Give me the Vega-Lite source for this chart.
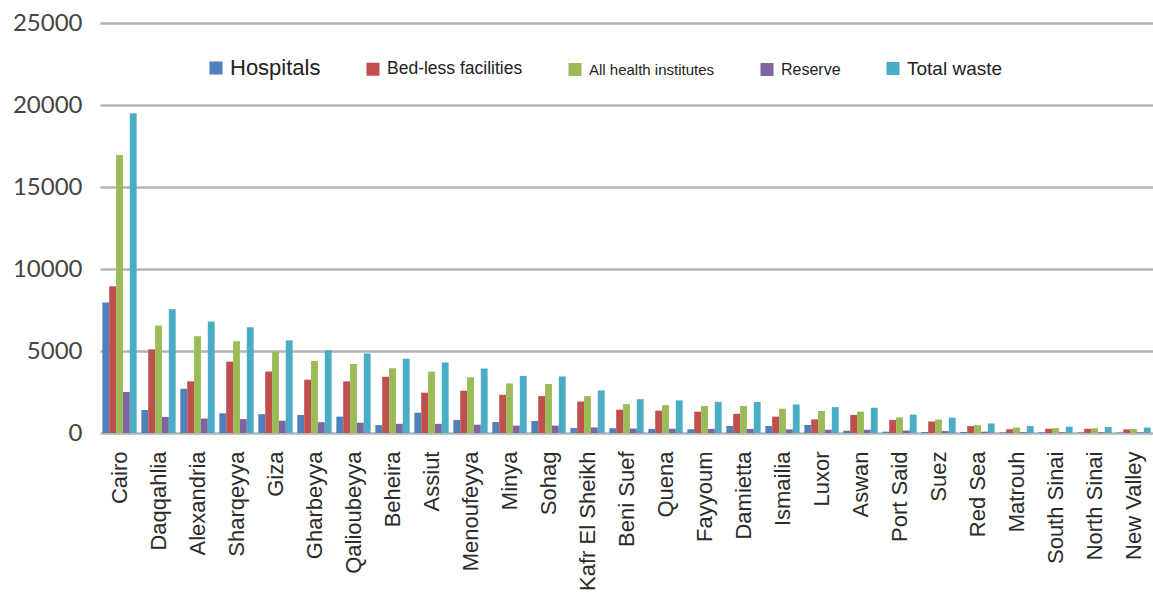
{
  "$schema": "https://vega.github.io/schema/vega-lite/v6.json",
  "width": 1053,
  "height": 410,
  "autosize": "none",
  "padding": {"left": 100, "top": 23, "right": 0, "bottom": 168},
  "background": "white",
  "config": {
    "view": {"stroke": null},
    "font": "Liberation Sans"
  },
  "data": {
    "values": [
      {"governorate": "Cairo", "series": "Hospitals", "waste": 7950},
      {"governorate": "Cairo", "series": "Bed-less facilities", "waste": 8950},
      {"governorate": "Cairo", "series": "All health institutes", "waste": 16950},
      {"governorate": "Cairo", "series": "Reserve", "waste": 2500},
      {"governorate": "Cairo", "series": "Total waste", "waste": 19500},
      {"governorate": "Daqqahlia", "series": "Hospitals", "waste": 1400},
      {"governorate": "Daqqahlia", "series": "Bed-less facilities", "waste": 5100},
      {"governorate": "Daqqahlia", "series": "All health institutes", "waste": 6550},
      {"governorate": "Daqqahlia", "series": "Reserve", "waste": 980},
      {"governorate": "Daqqahlia", "series": "Total waste", "waste": 7550},
      {"governorate": "Alexandria", "series": "Hospitals", "waste": 2700},
      {"governorate": "Alexandria", "series": "Bed-less facilities", "waste": 3150},
      {"governorate": "Alexandria", "series": "All health institutes", "waste": 5900},
      {"governorate": "Alexandria", "series": "Reserve", "waste": 880},
      {"governorate": "Alexandria", "series": "Total waste", "waste": 6800},
      {"governorate": "Sharqeyya", "series": "Hospitals", "waste": 1200},
      {"governorate": "Sharqeyya", "series": "Bed-less facilities", "waste": 4350},
      {"governorate": "Sharqeyya", "series": "All health institutes", "waste": 5600},
      {"governorate": "Sharqeyya", "series": "Reserve", "waste": 850},
      {"governorate": "Sharqeyya", "series": "Total waste", "waste": 6450},
      {"governorate": "Giza", "series": "Hospitals", "waste": 1150},
      {"governorate": "Giza", "series": "Bed-less facilities", "waste": 3750},
      {"governorate": "Giza", "series": "All health institutes", "waste": 4950},
      {"governorate": "Giza", "series": "Reserve", "waste": 750},
      {"governorate": "Giza", "series": "Total waste", "waste": 5650},
      {"governorate": "Gharbeyya", "series": "Hospitals", "waste": 1100},
      {"governorate": "Gharbeyya", "series": "Bed-less facilities", "waste": 3250},
      {"governorate": "Gharbeyya", "series": "All health institutes", "waste": 4400},
      {"governorate": "Gharbeyya", "series": "Reserve", "waste": 660},
      {"governorate": "Gharbeyya", "series": "Total waste", "waste": 5050},
      {"governorate": "Qalioubeyya", "series": "Hospitals", "waste": 1000},
      {"governorate": "Qalioubeyya", "series": "Bed-less facilities", "waste": 3150},
      {"governorate": "Qalioubeyya", "series": "All health institutes", "waste": 4200},
      {"governorate": "Qalioubeyya", "series": "Reserve", "waste": 630},
      {"governorate": "Qalioubeyya", "series": "Total waste", "waste": 4850},
      {"governorate": "Beheira", "series": "Hospitals", "waste": 480},
      {"governorate": "Beheira", "series": "Bed-less facilities", "waste": 3430},
      {"governorate": "Beheira", "series": "All health institutes", "waste": 3950},
      {"governorate": "Beheira", "series": "Reserve", "waste": 560},
      {"governorate": "Beheira", "series": "Total waste", "waste": 4530},
      {"governorate": "Assiut", "series": "Hospitals", "waste": 1240},
      {"governorate": "Assiut", "series": "Bed-less facilities", "waste": 2460},
      {"governorate": "Assiut", "series": "All health institutes", "waste": 3740},
      {"governorate": "Assiut", "series": "Reserve", "waste": 560},
      {"governorate": "Assiut", "series": "Total waste", "waste": 4300},
      {"governorate": "Menoufeyya", "series": "Hospitals", "waste": 790},
      {"governorate": "Menoufeyya", "series": "Bed-less facilities", "waste": 2580},
      {"governorate": "Menoufeyya", "series": "All health institutes", "waste": 3400},
      {"governorate": "Menoufeyya", "series": "Reserve", "waste": 510},
      {"governorate": "Menoufeyya", "series": "Total waste", "waste": 3930},
      {"governorate": "Minya", "series": "Hospitals", "waste": 670},
      {"governorate": "Minya", "series": "Bed-less facilities", "waste": 2330},
      {"governorate": "Minya", "series": "All health institutes", "waste": 3020},
      {"governorate": "Minya", "series": "Reserve", "waste": 450},
      {"governorate": "Minya", "series": "Total waste", "waste": 3480},
      {"governorate": "Sohag", "series": "Hospitals", "waste": 730},
      {"governorate": "Sohag", "series": "Bed-less facilities", "waste": 2250},
      {"governorate": "Sohag", "series": "All health institutes", "waste": 2990},
      {"governorate": "Sohag", "series": "Reserve", "waste": 450},
      {"governorate": "Sohag", "series": "Total waste", "waste": 3450},
      {"governorate": "Kafr El Sheikh", "series": "Hospitals", "waste": 300},
      {"governorate": "Kafr El Sheikh", "series": "Bed-less facilities", "waste": 1920},
      {"governorate": "Kafr El Sheikh", "series": "All health institutes", "waste": 2250},
      {"governorate": "Kafr El Sheikh", "series": "Reserve", "waste": 340},
      {"governorate": "Kafr El Sheikh", "series": "Total waste", "waste": 2600},
      {"governorate": "Beni Suef", "series": "Hospitals", "waste": 290},
      {"governorate": "Beni Suef", "series": "Bed-less facilities", "waste": 1420},
      {"governorate": "Beni Suef", "series": "All health institutes", "waste": 1760},
      {"governorate": "Beni Suef", "series": "Reserve", "waste": 270},
      {"governorate": "Beni Suef", "series": "Total waste", "waste": 2060},
      {"governorate": "Quena", "series": "Hospitals", "waste": 250},
      {"governorate": "Quena", "series": "Bed-less facilities", "waste": 1360},
      {"governorate": "Quena", "series": "All health institutes", "waste": 1700},
      {"governorate": "Quena", "series": "Reserve", "waste": 260},
      {"governorate": "Quena", "series": "Total waste", "waste": 1990},
      {"governorate": "Fayyoum", "series": "Hospitals", "waste": 230},
      {"governorate": "Fayyoum", "series": "Bed-less facilities", "waste": 1300},
      {"governorate": "Fayyoum", "series": "All health institutes", "waste": 1650},
      {"governorate": "Fayyoum", "series": "Reserve", "waste": 250},
      {"governorate": "Fayyoum", "series": "Total waste", "waste": 1900},
      {"governorate": "Damietta", "series": "Hospitals", "waste": 430},
      {"governorate": "Damietta", "series": "Bed-less facilities", "waste": 1170},
      {"governorate": "Damietta", "series": "All health institutes", "waste": 1650},
      {"governorate": "Damietta", "series": "Reserve", "waste": 250},
      {"governorate": "Damietta", "series": "Total waste", "waste": 1890},
      {"governorate": "Ismailia", "series": "Hospitals", "waste": 430},
      {"governorate": "Ismailia", "series": "Bed-less facilities", "waste": 1000},
      {"governorate": "Ismailia", "series": "All health institutes", "waste": 1480},
      {"governorate": "Ismailia", "series": "Reserve", "waste": 220},
      {"governorate": "Ismailia", "series": "Total waste", "waste": 1740},
      {"governorate": "Luxor", "series": "Hospitals", "waste": 490},
      {"governorate": "Luxor", "series": "Bed-less facilities", "waste": 830},
      {"governorate": "Luxor", "series": "All health institutes", "waste": 1340},
      {"governorate": "Luxor", "series": "Reserve", "waste": 200},
      {"governorate": "Luxor", "series": "Total waste", "waste": 1580},
      {"governorate": "Aswan", "series": "Hospitals", "waste": 140},
      {"governorate": "Aswan", "series": "Bed-less facilities", "waste": 1100},
      {"governorate": "Aswan", "series": "All health institutes", "waste": 1300},
      {"governorate": "Aswan", "series": "Reserve", "waste": 200},
      {"governorate": "Aswan", "series": "Total waste", "waste": 1540},
      {"governorate": "Port Said", "series": "Hospitals", "waste": 80},
      {"governorate": "Port Said", "series": "Bed-less facilities", "waste": 800},
      {"governorate": "Port Said", "series": "All health institutes", "waste": 950},
      {"governorate": "Port Said", "series": "Reserve", "waste": 150},
      {"governorate": "Port Said", "series": "Total waste", "waste": 1120},
      {"governorate": "Suez", "series": "Hospitals", "waste": 60},
      {"governorate": "Suez", "series": "Bed-less facilities", "waste": 700},
      {"governorate": "Suez", "series": "All health institutes", "waste": 820},
      {"governorate": "Suez", "series": "Reserve", "waste": 120},
      {"governorate": "Suez", "series": "Total waste", "waste": 930},
      {"governorate": "Red Sea", "series": "Hospitals", "waste": 60},
      {"governorate": "Red Sea", "series": "Bed-less facilities", "waste": 420},
      {"governorate": "Red Sea", "series": "All health institutes", "waste": 480},
      {"governorate": "Red Sea", "series": "Reserve", "waste": 80},
      {"governorate": "Red Sea", "series": "Total waste", "waste": 580},
      {"governorate": "Matrouh", "series": "Hospitals", "waste": 40},
      {"governorate": "Matrouh", "series": "Bed-less facilities", "waste": 230},
      {"governorate": "Matrouh", "series": "All health institutes", "waste": 330},
      {"governorate": "Matrouh", "series": "Reserve", "waste": 50},
      {"governorate": "Matrouh", "series": "Total waste", "waste": 420},
      {"governorate": "South Sinai", "series": "Hospitals", "waste": 40},
      {"governorate": "South Sinai", "series": "Bed-less facilities", "waste": 260},
      {"governorate": "South Sinai", "series": "All health institutes", "waste": 300},
      {"governorate": "South Sinai", "series": "Reserve", "waste": 50},
      {"governorate": "South Sinai", "series": "Total waste", "waste": 380},
      {"governorate": "North Sinai", "series": "Hospitals", "waste": 40},
      {"governorate": "North Sinai", "series": "Bed-less facilities", "waste": 260},
      {"governorate": "North Sinai", "series": "All health institutes", "waste": 290},
      {"governorate": "North Sinai", "series": "Reserve", "waste": 45},
      {"governorate": "North Sinai", "series": "Total waste", "waste": 370},
      {"governorate": "New Valley", "series": "Hospitals", "waste": 30},
      {"governorate": "New Valley", "series": "Bed-less facilities", "waste": 220},
      {"governorate": "New Valley", "series": "All health institutes", "waste": 250},
      {"governorate": "New Valley", "series": "Reserve", "waste": 40},
      {"governorate": "New Valley", "series": "Total waste", "waste": 330}
    ]
  },
  "mark": {"type": "bar"},
  "encoding": {
    "x": {
      "field": "governorate",
      "type": "nominal",
      "sort": null,
      "scale": {"paddingInner": 0.12, "paddingOuter": 0.06},
      "axis": {
        "title": null,
        "labelAngle": -90,
        "labelFontSize": 22,
        "labelColor": "#2a2a2a",
        "labelPadding": 18,
        "labelLimit": 0,
        "ticks": false,
        "domain": false
      }
    },
    "xOffset": {
      "field": "series",
      "type": "nominal",
      "sort": ["Hospitals", "Bed-less facilities", "All health institutes", "Reserve", "Total waste"],
      "scale": {"paddingInner": 0, "paddingOuter": 0}
    },
    "y": {
      "field": "waste",
      "type": "quantitative",
      "scale": {"domain": [0, 25000], "nice": false},
      "axis": {
        "title": null,
        "values": [0, 5000, 10000, 15000, 20000, 25000],
        "format": "d",
        "labelFont": "Lato",
        "labelFontSize": 24,
        "labelColor": "#444444",
        "labelPadding": 18,
        "ticks": false,
        "domain": false,
        "gridColor": "#b4b4b4",
        "gridWidth": 2.5
      }
    },
    "color": {
      "field": "series",
      "type": "nominal",
      "scale": {
        "domain": ["Hospitals", "Bed-less facilities", "All health institutes", "Reserve", "Total waste"],
        "range": ["#4F81BD", "#C0504D", "#9BBB59", "#8064A2", "#4BACC6"]
      },
      "legend": {
        "title": null,
        "orient": "none",
        "direction": "horizontal",
        "legendX": 108,
        "legendY": 37,
        "symbolType": "square",
        "symbolSize": 170,
        "symbolStrokeWidth": 0,
        "labelFontSize": 17,
        "labelColor": "#222222",
        "labelOffset": 6,
        "columnPadding": 44,
        "encode": {
          "labels": {
            "update": {
              "fontSize": {"signal": "datum.label === 'Hospitals' ? 22 : datum.label === 'Total waste' ? 19 : datum.label === 'Bed-less facilities' ? 17.5 : datum.label === 'All health institutes' ? 15 : 16"}
            }
          }
        }
      }
    }
  }
}
